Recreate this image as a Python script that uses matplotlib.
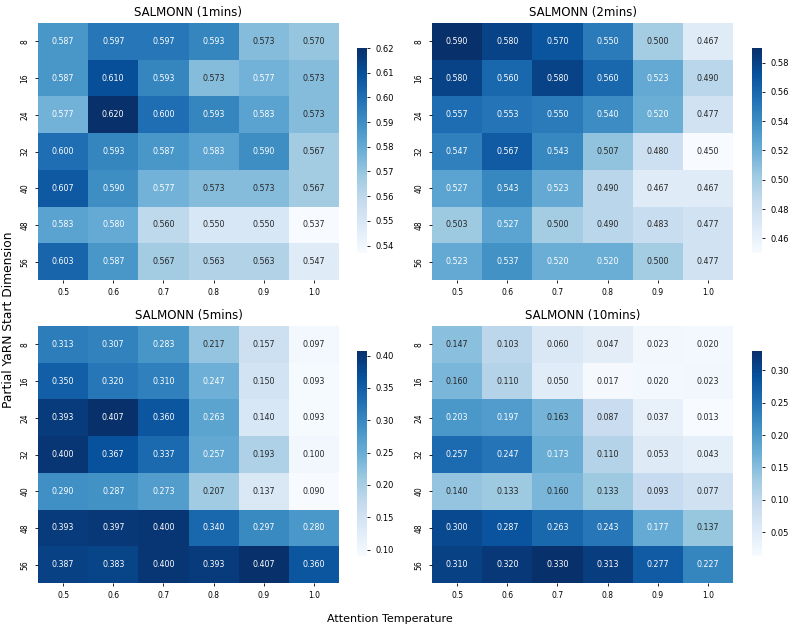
import numpy as np
import matplotlib
matplotlib.use("Agg")
import matplotlib.pyplot as plt
import seaborn as sns

temps = ["0.5", "0.6", "0.7", "0.8", "0.9", "1.0"]
dims = ["8", "16", "24", "32", "40", "48", "56"]

salmonn_1min = [
    [0.587, 0.597, 0.597, 0.593, 0.573, 0.570],
    [0.587, 0.610, 0.593, 0.573, 0.577, 0.573],
    [0.577, 0.620, 0.600, 0.593, 0.583, 0.573],
    [0.600, 0.593, 0.587, 0.583, 0.590, 0.567],
    [0.607, 0.590, 0.577, 0.573, 0.573, 0.567],
    [0.583, 0.580, 0.560, 0.550, 0.550, 0.537],
    [0.603, 0.587, 0.567, 0.563, 0.563, 0.547],
]
salmonn_2min = [
    [0.590, 0.580, 0.570, 0.550, 0.500, 0.467],
    [0.580, 0.560, 0.580, 0.560, 0.523, 0.490],
    [0.557, 0.553, 0.550, 0.540, 0.520, 0.477],
    [0.547, 0.567, 0.543, 0.507, 0.480, 0.450],
    [0.527, 0.543, 0.523, 0.490, 0.467, 0.467],
    [0.503, 0.527, 0.500, 0.490, 0.483, 0.477],
    [0.523, 0.537, 0.520, 0.520, 0.500, 0.477],
]
salmonn_5min = [
    [0.313, 0.307, 0.283, 0.217, 0.157, 0.097],
    [0.350, 0.320, 0.310, 0.247, 0.150, 0.093],
    [0.393, 0.407, 0.360, 0.263, 0.140, 0.093],
    [0.400, 0.367, 0.337, 0.257, 0.193, 0.100],
    [0.290, 0.287, 0.273, 0.207, 0.137, 0.090],
    [0.393, 0.397, 0.400, 0.340, 0.297, 0.280],
    [0.387, 0.383, 0.400, 0.393, 0.407, 0.360],
]
salmonn_10min = [
    [0.147, 0.103, 0.060, 0.047, 0.023, 0.020],
    [0.160, 0.110, 0.050, 0.017, 0.020, 0.023],
    [0.203, 0.197, 0.163, 0.087, 0.037, 0.013],
    [0.257, 0.247, 0.173, 0.110, 0.053, 0.043],
    [0.140, 0.133, 0.160, 0.133, 0.093, 0.077],
    [0.300, 0.287, 0.263, 0.243, 0.177, 0.137],
    [0.310, 0.320, 0.330, 0.313, 0.277, 0.227],
]
titles = ["SALMONN (1mins)", "SALMONN (2mins)", "SALMONN (5mins)", "SALMONN (10mins)"]
datasets = [salmonn_1min, salmonn_2min, salmonn_5min, salmonn_10min]

W, H = 793, 631
fig = plt.figure(figsize=(W / 100, H / 100), dpi=100)

ax_w = 301 / W
ax_h = 257 / H
lefts = [38 / W, 432 / W]
bottoms = [1 - 280 / H, 1 - 583 / H]
cb_lefts = [357 / W, 752 / W]
cb_bottoms = [1 - 253 / H, 1 - 556 / H]
cb_w = 10 / W
cb_h = 205 / H

for i, (data, title) in enumerate(zip(datasets, titles)):
    r, c = divmod(i, 2)
    ax = fig.add_axes([lefts[c], bottoms[r], ax_w, ax_h])
    cax = fig.add_axes([cb_lefts[c], cb_bottoms[r], cb_w, cb_h])
    arr = np.array(data)
    sns.heatmap(arr, ax=ax, cbar_ax=cax, cmap="Blues", annot=True, fmt=".3f",
                annot_kws={"fontsize": 5.7}, xticklabels=temps, yticklabels=dims,
                linewidths=0)
    ax.set_title(title, fontsize=8.5, pad=5)
    ax.tick_params(axis="both", labelsize=5.5, length=2.5, width=0.6)
    ax.set_yticklabels(dims, rotation=90, va="center")
    ax.set_xticklabels(temps, rotation=0)
    cax.tick_params(labelsize=6, length=2.5, width=0.6)
    for s in cax.spines.values():
        s.set_visible(False)

fig.text(390 / W, 1 - 619 / H, "Attention Temperature", ha="center", va="center", fontsize=8)
fig.text(9 / W, 1 - 320 / H, "Partial YaRN Start Dimension", ha="center", va="center",
         rotation=90, fontsize=8.8)

fig.savefig("out.png", dpi=100)
